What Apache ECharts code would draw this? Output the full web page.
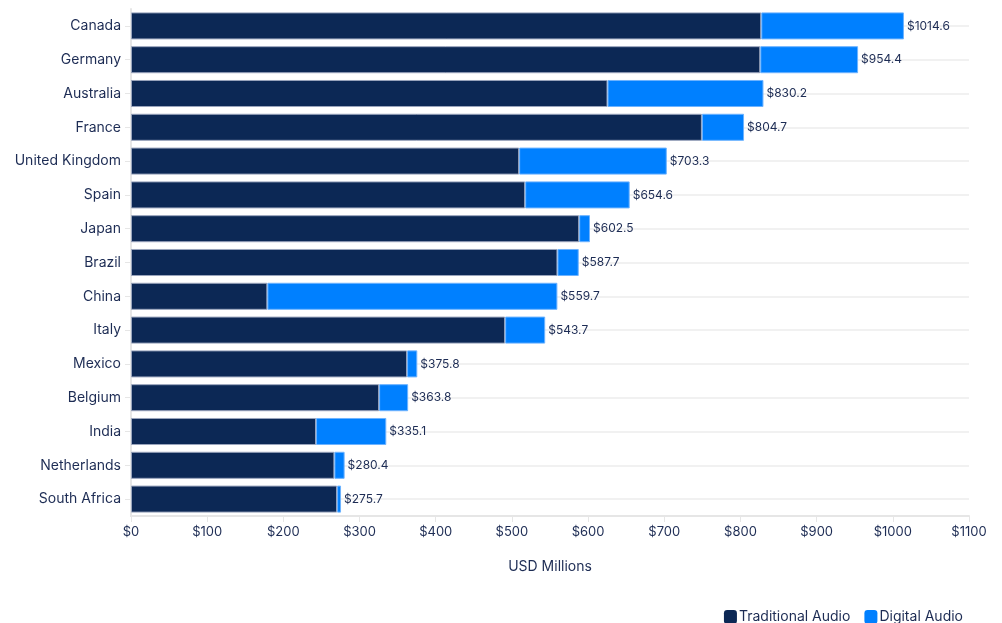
<!DOCTYPE html>
<html>
<head>
<meta charset="utf-8">
<script src="https://cdn.jsdelivr.net/npm/echarts@6/dist/echarts.min.js"></script>
<style>html,body{margin:0;padding:0;background:#fff;}#c{width:1002px;height:623px;}</style>
</head>
<body>
<div id="c"></div>
<script>
const categories = ['Canada','Germany','Australia','France','United Kingdom','Spain','Japan','Brazil','China','Italy','Mexico','Belgium','India','Netherlands','South Africa'];
const traditional = [827.3, 826.0, 625.5, 749.4, 509.5, 517.4, 588.3, 559.8, 179.0, 491.1, 362.4, 325.7, 242.9, 267.0, 270.5];
const digital = [187.3, 128.4, 204.7, 55.3, 193.8, 137.2, 14.2, 27.9, 380.7, 52.6, 13.4, 38.1, 92.2, 13.4, 5.2];
const totals = [1014.6, 954.4, 830.2, 804.7, 703.3, 654.6, 602.5, 587.7, 559.7, 543.7, 375.8, 363.8, 335.1, 280.4, 275.7];

const textColor = '#1d2c54';
const font = 'Inter, "Noto Sans", sans-serif';
const chart = echarts.init(document.getElementById('c'));
chart.setOption({
  animation: false,
  textStyle: { fontFamily: font, color: textColor },
  grid: { left: 131, right: 33, top: 9, bottom: 107, containLabel: false },
  legend: {
    top: 605, right: 34,
    icon: 'roundRect', itemWidth: 13, itemHeight: 14, itemGap: 14,
    itemStyle: { borderWidth: 0 },
    textStyle: { fontFamily: font, fontSize: 14, color: textColor, padding: [0,0,0,-3] },
    data: ['Traditional Audio', 'Digital Audio']
  },
  xAxis: {
    type: 'value', min: 0, max: 1100, interval: 100,
    name: 'USD Millions', nameLocation: 'middle', nameGap: 44,
    nameTextStyle: { fontFamily: font, fontSize: 14, color: textColor },
    axisLine: { show: true, lineStyle: { color: '#e6e6e6', width: 2 } },
    axisTick: { show: true, length: 6, lineStyle: { color: '#e6e6e6' } },
    axisLabel: { formatter: v => '$' + v, fontFamily: font, fontSize: 13, color: textColor, margin: 10 },
    splitLine: { show: false }
  },
  yAxis: {
    type: 'category', data: categories, inverse: true,
    axisLine: { show: true, lineStyle: { color: '#e6e6e6', width: 2 } },
    axisTick: { show: true, alignWithLabel: true, length: 6, lineStyle: { color: '#e6e6e6' } },
    axisLabel: { fontFamily: font, fontSize: 14, color: textColor, margin: 10 },
    splitLine: { show: true, alignWithLabel: true, lineStyle: { color: '#ececec', width: 1.5 } }
  },
  series: [
    {
      name: 'Traditional Audio', type: 'bar', stack: 'total', data: traditional,
      barWidth: '80%',
      itemStyle: { color: '#0c2855', borderColor: '#9aa5bd', borderWidth: 1 }
    },
    {
      name: 'Digital Audio', type: 'bar', stack: 'total', data: digital,
      barWidth: '80%',
      itemStyle: { color: '#0080ff', borderColor: '#6db3ff', borderWidth: 1 },
      label: {
        show: true, position: 'right', distance: 3,
        formatter: p => '$' + totals[p.dataIndex].toFixed(1),
        fontFamily: font, fontSize: 12, color: textColor
      }
    }
  ]
});
</script>
</body>
</html>
